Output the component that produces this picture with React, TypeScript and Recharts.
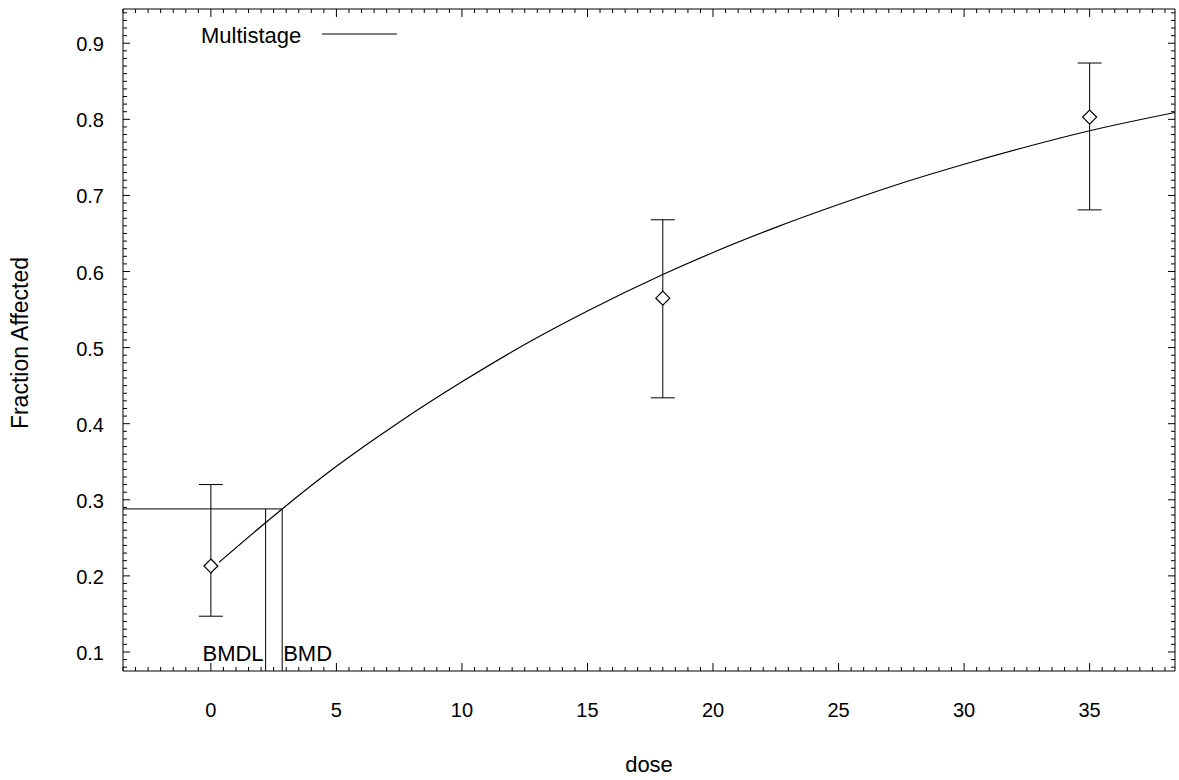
import React from "react";
import {
  ComposedChart,
  Line,
  Scatter,
  ErrorBar,
  XAxis,
  YAxis,
  ReferenceLine,
  ReferenceDot,
  Legend,
} from "recharts";

// observed dose groups
const doses = [0, 18, 35];
const fractionAffected = [0.213, 0.565, 0.803];
const ciLower = [0.147, 0.434, 0.681];
const ciUpper = [0.32, 0.668, 0.874];

// fitted multistage curve
const curveDoses = [0.33, 2.84, 5, 7.5, 10, 12.5, 15, 18, 20, 22.5, 25, 27.5, 30, 32.5, 35, 38.4];
const curveValues = [
  0.218, 0.288, 0.344, 0.402, 0.455, 0.504, 0.548, 0.596, 0.625, 0.658, 0.688, 0.716, 0.741,
  0.764, 0.785, 0.809,
];

const bmr = 0.288;
const bmd = 2.84;
const bmdl = 2.18;

const xTickLabels = [0, 5, 10, 15, 20, 25, 30, 35];
const yTickLabels = [0.1, 0.2, 0.3, 0.4, 0.5, 0.6, 0.7, 0.8, 0.9];

const X_DOMAIN: [number, number] = [-3.5, 38.4];
const Y_DOMAIN: [number, number] = [0.075, 0.945];

// minor ticks: every 0.5 on dose, every 0.01 on fraction
const xTicks: number[] = [];
for (let k = -7; k <= 76; k++) xTicks.push(k / 2);
const yTicks: number[] = [];
for (let k = 8; k <= 94; k++) yTicks.push(k / 100);

const points = doses.map((d, i) => ({
  x: d,
  y: fractionAffected[i],
  err: [fractionAffected[i] - ciLower[i], ciUpper[i] - fractionAffected[i]],
}));
const curve = curveDoses.map((d, i) => ({ x: d, y: curveValues[i] }));

const FONT = "'Liberation Sans', Arial, Helvetica, sans-serif";

const isMajorX = (v: number) => xTickLabels.includes(v);
const isMajorY = (v: number) => yTickLabels.some((t) => Math.abs(t - v) < 1e-9);

function BottomTick({ x, y, payload }: any) {
  const major = isMajorX(payload.value);
  return (
    <g>
      <line x1={x} y1={y} x2={x} y2={y - (major ? 8 : 4)} stroke="#000" strokeWidth={1} />
      {major && (
        <text x={x} y={y + 46} textAnchor="middle" fontSize={20} fontFamily={FONT} fill="#000">
          {payload.value}
        </text>
      )}
    </g>
  );
}

function TopTick({ x, y, payload }: any) {
  const major = isMajorX(payload.value);
  return <line x1={x} y1={y} x2={x} y2={y + (major ? 8 : 4)} stroke="#000" strokeWidth={1} />;
}

function LeftTick({ x, y, payload }: any) {
  const major = isMajorY(payload.value);
  return (
    <g>
      <line x1={x} y1={y} x2={x + (major ? 7 : 4)} y2={y} stroke="#000" strokeWidth={1} />
      {major && (
        <text x={x - 19} y={y + 8} textAnchor="end" fontSize={20} fontFamily={FONT} fill="#000">
          {payload.value.toFixed(1)}
        </text>
      )}
    </g>
  );
}

function RightTick({ x, y, payload }: any) {
  const major = isMajorY(payload.value);
  return <line x1={x} y1={y} x2={x - (major ? 7 : 4)} y2={y} stroke="#000" strokeWidth={1} />;
}

function Diamond({ cx, cy }: any) {
  const s = 7;
  return (
    <path
      d={`M${cx},${cy - s}L${cx + s},${cy}L${cx},${cy + s}L${cx - s},${cy}Z`}
      fill="#fff"
      stroke="#000"
      strokeWidth={1.2}
    />
  );
}

function renderLegend(props: any) {
  const items = (props.payload || []).filter((p: any) => p.type !== "none");
  return (
    <svg width={220} height={30} style={{ display: "block" }}>
      {items.map((it: any) => (
        <g key={it.value}>
          <text x={0} y={22.7} fontSize={22} fontFamily={FONT} fill="#000">
            {it.value}
          </text>
          <line x1={121} y1={14} x2={196} y2={14} stroke="#000" />
        </g>
      ))}
    </svg>
  );
}

export default function App() {
  return (
    <div style={{ position: "absolute", left: 0, top: 0, background: "#fff" }}>
      <ComposedChart width={1179} height={780} margin={{ top: 8, right: 3, bottom: 0, left: 0 }}>
        <XAxis
          dataKey="x"
          type="number"
          domain={X_DOMAIN}
          allowDataOverflow
          ticks={xTicks}
          interval={0}
          height={109}
          tickSize={0}
          tickMargin={0}
          tickLine={false}
          axisLine={{ stroke: "#000" }}
          tick={BottomTick}
          label={(p: any) => {
            const vb = p.viewBox || { x: 123, y: 671, width: 1052 };
            return (
              <text x={vb.x + vb.width / 2} y={vb.y + 101} textAnchor="middle" fontSize={22} fontFamily={FONT} fill="#000">
                dose
              </text>
            );
          }}
        />
        <XAxis
          xAxisId="top"
          orientation="top"
          dataKey="x"
          type="number"
          domain={X_DOMAIN}
          allowDataOverflow
          ticks={xTicks}
          interval={0}
          height={1}
          tickSize={0}
          tickMargin={0}
          tickLine={false}
          axisLine={{ stroke: "#000" }}
          tick={TopTick}
        />
        <YAxis
          type="number"
          domain={Y_DOMAIN}
          allowDataOverflow
          ticks={yTicks}
          interval={0}
          width={123}
          tickSize={0}
          tickMargin={0}
          tickLine={false}
          axisLine={{ stroke: "#000" }}
          tick={LeftTick}
          label={(p: any) => {
            const vb = p.viewBox || { x: 0, y: 9, height: 662 };
            const cy = vb.y + vb.height / 2 + 3;
            return (
              <text
                x={28}
                y={cy}
                transform={`rotate(-90, 28, ${cy})`}
                textAnchor="middle"
                fontSize={23}
                fontFamily={FONT}
                fill="#000"
              >
                Fraction Affected
              </text>
            );
          }}
        />
        <YAxis
          yAxisId="right"
          orientation="right"
          type="number"
          domain={Y_DOMAIN}
          allowDataOverflow
          ticks={yTicks}
          interval={0}
          width={1}
          tickSize={0}
          tickMargin={0}
          tickLine={false}
          axisLine={{ stroke: "#000" }}
          tick={RightTick}
        />
        <Legend
          layout="vertical"
          align="center"
          verticalAlign="middle"
          wrapperStyle={{ left: 201, top: 20, width: 220, height: 30 }}
          content={renderLegend}
        />

        <ReferenceLine
          segment={[{ x: X_DOMAIN[0], y: bmr }, { x: bmd, y: bmr }]}
          stroke="#000"
          ifOverflow="visible"
        />
        <ReferenceLine
          segment={[{ x: bmdl, y: Y_DOMAIN[0] }, { x: bmdl, y: bmr }]}
          stroke="#000"
          ifOverflow="visible"
        />
        <ReferenceLine
          segment={[{ x: bmd, y: Y_DOMAIN[0] }, { x: bmd, y: bmr }]}
          stroke="#000"
          ifOverflow="visible"
        />
        <ReferenceDot
          x={bmdl}
          y={Y_DOMAIN[0]}
          r={0}
          fill="none"
          stroke="none"
          ifOverflow="visible"
          label={(p: any) => {
            const vb = p.viewBox || {};
            return (
              <text x={vb.x - 2} y={vb.y - 10} textAnchor="end" fontSize={22} fontFamily={FONT} fill="#000">
                BMDL
              </text>
            );
          }}
        />
        <ReferenceDot
          x={bmd}
          y={Y_DOMAIN[0]}
          r={0}
          fill="none"
          stroke="none"
          ifOverflow="visible"
          label={(p: any) => {
            const vb = p.viewBox || {};
            return (
              <text x={vb.x + 1} y={vb.y - 10} textAnchor="start" fontSize={22} fontFamily={FONT} fill="#000">
                BMD
              </text>
            );
          }}
        />

        <Line
          data={curve}
          dataKey="y"
          name="Multistage"
          type="monotone"
          stroke="#000"
          strokeWidth={1.2}
          dot={false}
          activeDot={false}
          isAnimationActive={false}
        />
        <Scatter
          data={points}
          dataKey="y"
          legendType="none"
          shape={Diamond}
          isAnimationActive={false}
        >
          <ErrorBar dataKey="err" direction="y" width={12} stroke="#000" strokeWidth={1} isAnimationActive={false} />
        </Scatter>
      </ComposedChart>
    </div>
  );
}
